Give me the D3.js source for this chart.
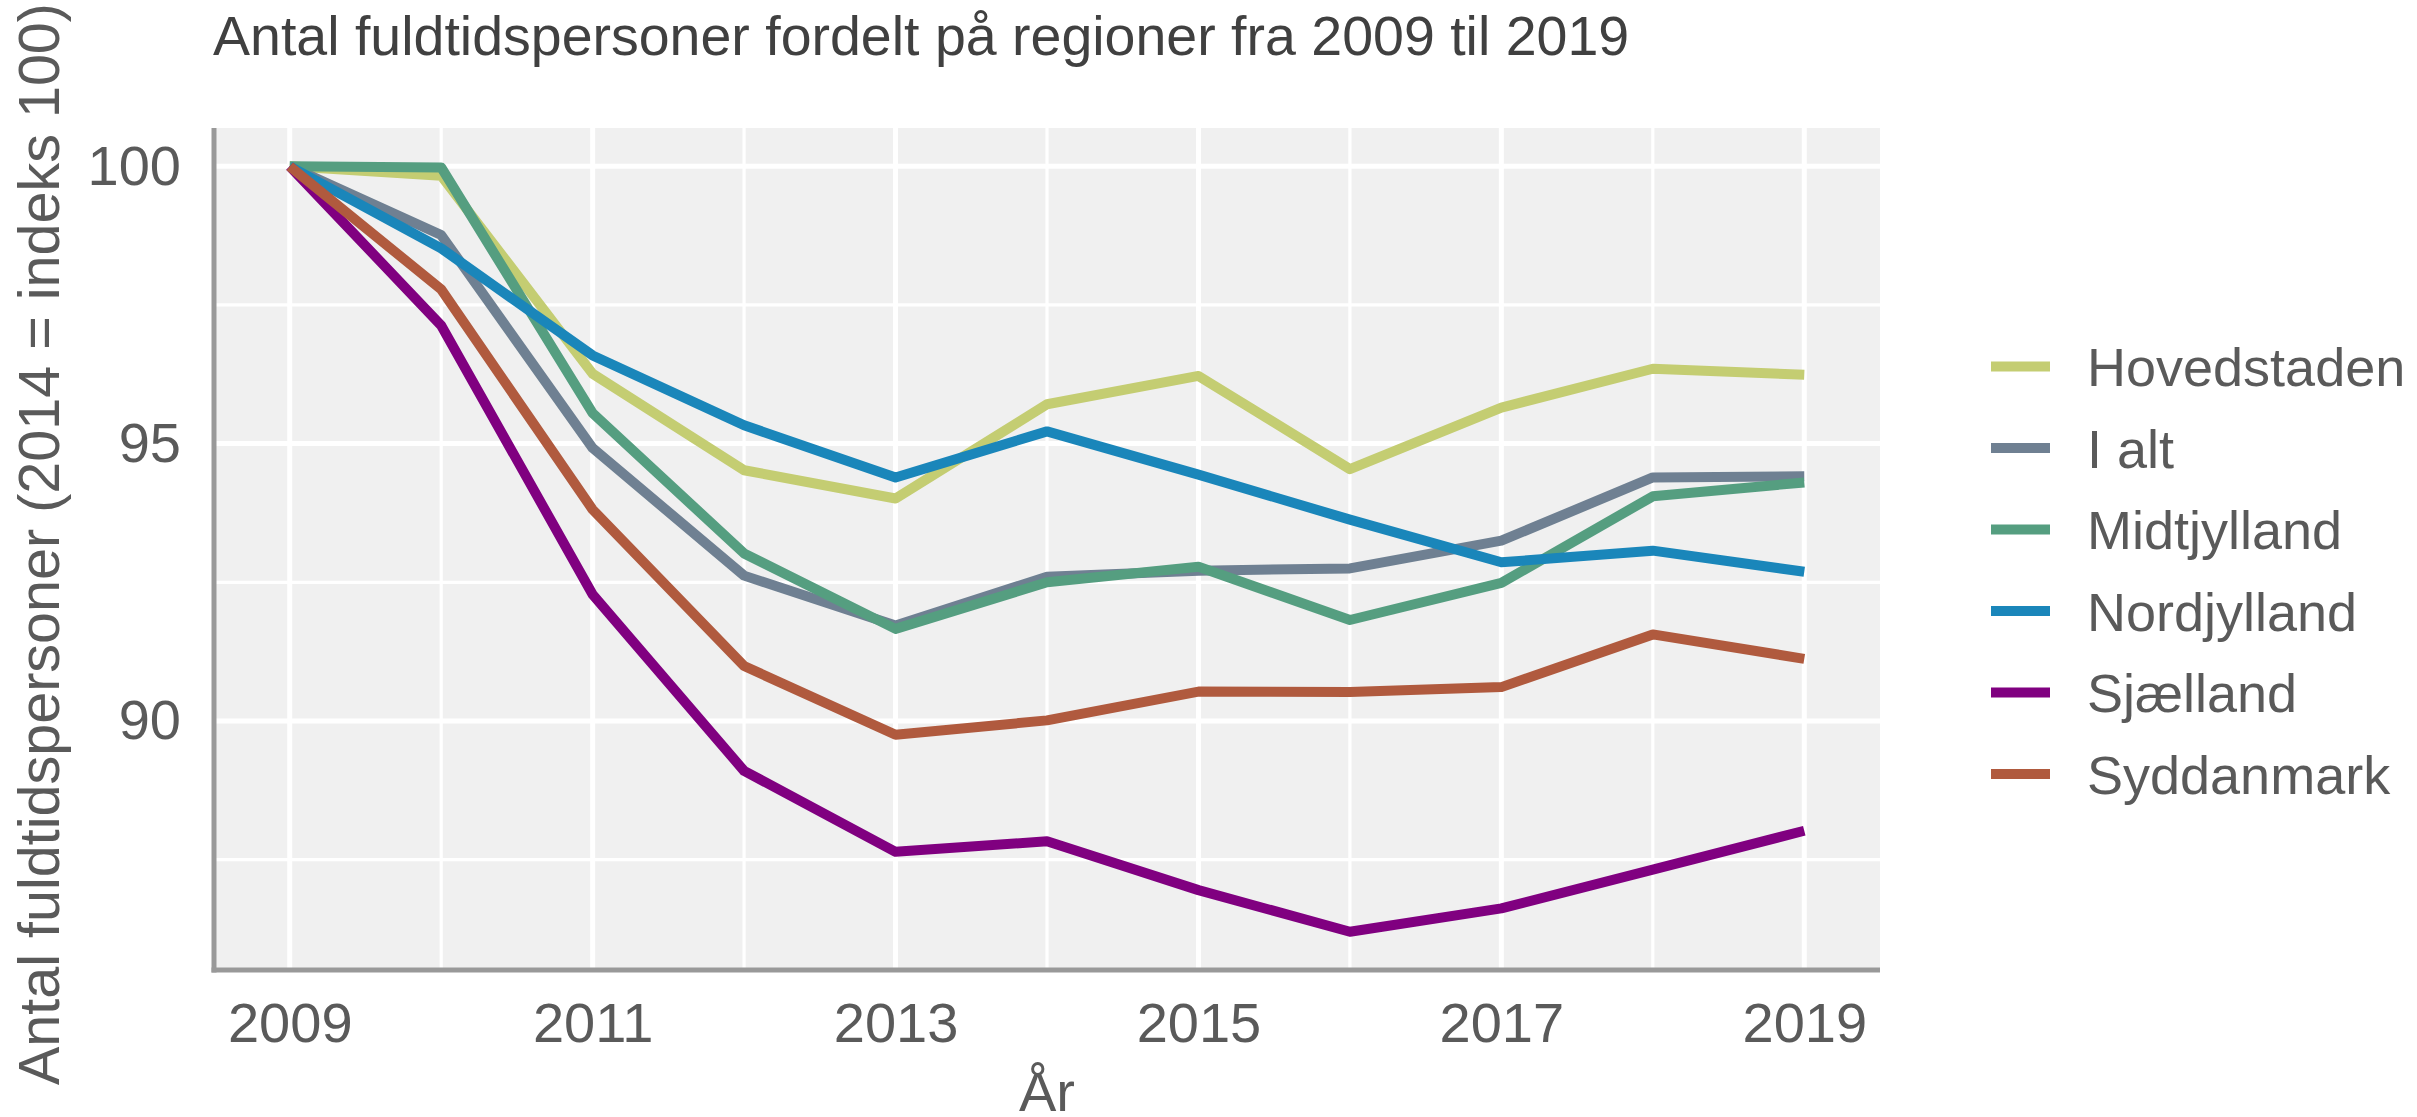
<!DOCTYPE html>
<html>
<head>
<meta charset="utf-8">
<script src="https://cdn.jsdelivr.net/npm/d3@7"></script>
<style>
  body { margin: 0; background: #fff; }
  text { font-family: "Liberation Sans", Arial, sans-serif; }
</style>
</head>
<body>
<svg id="chart" width="2417" height="1117"></svg>
<script>
// data (2014 = indeks 100 per the axis title)
var years = [2009, 2010, 2011, 2012, 2013, 2014, 2015, 2016, 2017, 2018, 2019];
var regions = ["Hovedstaden", "I alt", "Midtjylland", "Nordjylland", "Sjælland", "Syddanmark"];
var hovedstaden = [100, 99.83, 96.26, 94.52, 94.01, 95.71, 96.22, 94.54, 95.65, 96.35, 96.24];
var iAlt        = [100, 98.76, 94.92, 92.62, 91.72, 92.60, 92.71, 92.75, 93.25, 94.39, 94.41];
var midtjylland = [100, 99.98, 95.55, 93.02, 91.66, 92.50, 92.78, 91.82, 92.49, 94.05, 94.30];
var nordjylland = [100, 98.52, 96.59, 95.33, 94.39, 95.22, 94.44, 93.63, 92.86, 93.07, 92.69];
var sjaelland   = [100, 97.13, 92.28, 89.10, 87.64, 87.83, 86.95, 86.20, 86.62, 87.32, 88.02];
var syddanmark  = [100, 97.78, 93.81, 90.99, 89.75, 90.01, 90.53, 90.52, 90.61, 91.56, 91.12];
var colors = ["#c4cd72", "#6f8092", "#559e80", "#1a86ba", "#800080", "#b05a3e"];
var xTicks = [2009, 2011, 2013, 2015, 2017, 2019];
var xMinor = [2010, 2012, 2014, 2016, 2018];
var yTicks = [90, 95, 100];
var yMinor = [87.5, 92.5, 97.5];

var seriesValues = [hovedstaden, iAlt, midtjylland, nordjylland, sjaelland, syddanmark];
var series = regions.map(function (name, i) {
    return { name: name, color: colors[i], values: seriesValues[i].map(function (v, j) { return { year: years[j], value: v }; }) };
});

var svg = d3.select("#chart");
var pLeft = 214, pRight = 1880, pTop = 128, pBottom = 970;

// ggplot style expansion: 5% of the data range on each side
var xExt = d3.extent(years), yExt = d3.extent(d3.merge(seriesValues));
var xPad = (xExt[1] - xExt[0]) * 0.05, yPad = (yExt[1] - yExt[0]) * 0.05;

var x = d3.scaleLinear().domain([xExt[0] - xPad, xExt[1] + xPad]).range([pLeft, pRight]);
var y = d3.scaleLinear().domain([yExt[0] - yPad, yExt[1] + yPad]).range([pBottom, pTop]);

// panel
svg.append("rect")
    .attr("x", pLeft)
    .attr("y", pTop)
    .attr("width", pRight - pLeft)
    .attr("height", pBottom - pTop)
    .attr("fill", "#f0f0f0");

// grid
svg.selectAll(".vminor").data(xMinor).enter().append("line")
    .attr("x1", function (d) { return x(d); }).attr("x2", function (d) { return x(d); })
    .attr("y1", pTop).attr("y2", pBottom)
    .attr("stroke", "#fff").attr("stroke-width", 3.2);
svg.selectAll(".hminor").data(yMinor).enter().append("line")
    .attr("x1", pLeft).attr("x2", pRight)
    .attr("y1", function (d) { return y(d); }).attr("y2", function (d) { return y(d); })
    .attr("stroke", "#fff").attr("stroke-width", 3.2);
svg.selectAll(".vmajor").data(xTicks).enter().append("line")
    .attr("x1", function (d) { return x(d); }).attr("x2", function (d) { return x(d); })
    .attr("y1", pTop).attr("y2", pBottom)
    .attr("stroke", "#fff").attr("stroke-width", 5);
svg.selectAll(".hmajor").data(yTicks).enter().append("line")
    .attr("x1", pLeft).attr("x2", pRight)
    .attr("y1", function (d) { return y(d); }).attr("y2", function (d) { return y(d); })
    .attr("stroke", "#fff").attr("stroke-width", 5);

// lines
var line = d3.line()
    .x(function (d) { return x(d.year); })
    .y(function (d) { return y(d.value); });

svg.selectAll(".series").data(series).enter().append("path")
    .attr("d", function (d) { return line(d.values); })
    .attr("fill", "none")
    .attr("stroke", function (d) { return d.color; })
    .attr("stroke-width", 10)
    .attr("stroke-linejoin", "round")
    .attr("stroke-linecap", "butt");

// axis lines
svg.append("line")
    .attr("x1", pLeft).attr("x2", pLeft).attr("y1", pTop).attr("y2", pBottom + 2.5)
    .attr("stroke", "#999").attr("stroke-width", 5);
svg.append("line")
    .attr("x1", pLeft - 2.5).attr("x2", pRight).attr("y1", pBottom).attr("y2", pBottom)
    .attr("stroke", "#999").attr("stroke-width", 5);

// tick labels
var xAxis = svg.append("g")
    .attr("transform", "translate(0," + pBottom + ")")
    .call(d3.axisBottom(x).tickValues(xTicks).tickFormat(d3.format("d")).tickSize(0).tickPadding(32));
var yAxis = svg.append("g")
    .attr("transform", "translate(" + pLeft + ",0)")
    .call(d3.axisLeft(y).tickValues(yTicks).tickFormat(d3.format("d")).tickSize(0).tickPadding(33));

[xAxis, yAxis].forEach(function (g) {
    g.select(".domain").remove();
    g.selectAll("text")
        .attr("font-family", "'Liberation Sans', Arial, sans-serif")
        .attr("font-size", 56)
        .attr("fill", "#5a5a5a");
});

// titles
svg.append("text")
    .attr("x", 213)
    .attr("y", 55)
    .attr("font-size", 55.5)
    .attr("fill", "#404040")
    .text("Antal fuldtidspersoner fordelt på regioner fra 2009 til 2019");

svg.append("text")
    .attr("transform", "translate(59," + ((pTop + pBottom) / 2 - 5) + ") rotate(-90)")
    .attr("text-anchor", "middle")
    .attr("font-size", 57.5)
    .attr("fill", "#5a5a5a")
    .text("Antal fuldtidspersoner (2014 = indeks 100)");

svg.append("text")
    .attr("x", (pLeft + pRight) / 2)
    .attr("y", 1111)
    .attr("text-anchor", "middle")
    .attr("font-size", 56)
    .attr("fill", "#5a5a5a")
    .text("År");

// legend
var legend = svg.append("g")
    .attr("transform", "translate(1991,366.6)");

var legendItem = legend.selectAll(".legend")
    .data(series)
    .enter();

legendItem.append("line")
    .attr("x1", 0).attr("x2", 59)
    .attr("y1", function (d, i) { return i * 81.5; })
    .attr("y2", function (d, i) { return i * 81.5; })
    .attr("stroke", function (d) { return d.color; })
    .attr("stroke-width", 10);

legendItem.append("text")
    .attr("x", 96)
    .attr("y", function (d, i) { return i * 81.5 + 19.5; })
    .attr("font-size", 54)
    .attr("fill", "#5a5a5a")
    .text(function (d) { return d.name; });
</script>
</body>
</html>
